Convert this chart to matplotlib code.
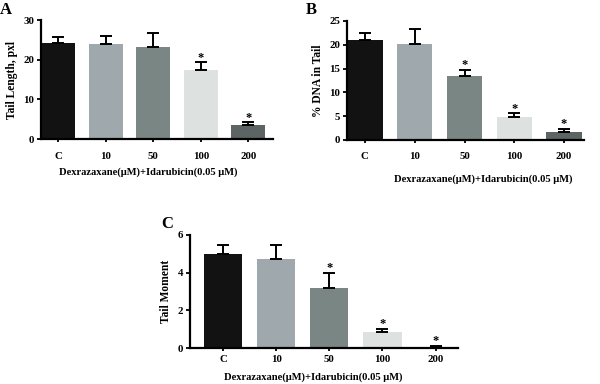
import numpy as np
import matplotlib.pyplot as plt

groups = ['C', '10', '50', '100', '200']
bar_colors = ['#121212', '#9ea8ad', '#7a8683', '#dde2e0', '#5c6563']

tail_length = [24.3, 24.0, 23.2, 17.3, 3.6]
tail_length_err = [1.5, 2.0, 3.4, 2.0, 0.7]

dna_in_tail = [21.0, 20.1, 13.5, 4.9, 1.7]
dna_in_tail_err = [1.4, 3.2, 1.2, 0.7, 0.6]

tail_moment = [5.0, 4.72, 3.2, 0.85, 0.07]
tail_moment_err = [0.45, 0.73, 0.8, 0.18, 0.06]

signif_a = [False, False, False, True, True]
signif_b = [False, False, True, True, True]
signif_c = [False, False, True, True, True]

xlabel = 'Dexrazaxane(\u03bcM)+Idarubicin(0.05 \u03bcM)'

plt.rcParams['font.family'] = ['Liberation Serif', 'DejaVu Serif']
plt.rcParams['font.weight'] = 'bold'

W, H = 600, 384
fig = plt.figure(figsize=(W / 100, H / 100), dpi=100)


def px_axes(left, right, top, bottom):
    return fig.add_axes([left / W, 1 - bottom / H, (right - left) / W, (bottom - top) / H])


def panel(ax, vals, errs, stars, ymax, yticks, ylabel, xlim, width, star_off, xpad):
    x = np.arange(len(groups))
    ax.bar(x, vals, width=width, color=bar_colors, zorder=2)
    ax.errorbar(x, vals, yerr=[np.zeros(len(vals)), errs], fmt='none',
                ecolor='black', elinewidth=1.4, capsize=4, capthick=1.4, zorder=3)
    for xi, v, e, s in zip(x, vals, errs, stars):
        if s:
            ax.text(xi, v + e + star_off, '*', ha='center', va='center', fontsize=9)
    ax.set_xlim(*xlim)
    ax.set_ylim(0, ymax)
    ax.set_yticks(yticks)
    ax.set_xticks(x)
    ax.set_xticklabels(groups)
    for side in ['top', 'right']:
        ax.spines[side].set_visible(False)
    for side in ['left', 'bottom']:
        ax.spines[side].set_linewidth(1.6)
    ax.tick_params(axis='y', labelsize=7.8, width=1.3, length=3, pad=2)
    ax.tick_params(axis='x', labelsize=7.8, width=1.3, length=2, pad=xpad)
    ax.set_ylabel(ylabel, fontsize=8.3, fontweight='bold', labelpad=4)


axA = px_axes(41, 273, 20, 139)
panel(axA, tail_length, tail_length_err, signif_a, 30, [0, 10, 20, 30],
      'Tail Length, pxl', (-0.36, 4.52), 0.71, 1.1, 7)

axB = px_axes(347, 584, 21, 140)
panel(axB, dna_in_tail, dna_in_tail_err, signif_b, 25, [0, 5, 10, 15, 20, 25],
      '% DNA in Tail', (-0.36, 4.4), 0.71, 1.0, 7)

axC = px_axes(190, 458, 235, 348)
panel(axC, tail_moment, tail_moment_err, signif_c, 6, [0, 2, 4, 6],
      'Tail Moment', (-0.62, 4.42), 0.72, 0.25, 3)

# x-axis titles and panel letters, placed in figure pixels
for cx, cy in [(148, 172), (483, 179), (313, 377)]:
    fig.text(cx / W, 1 - cy / H, xlabel, fontsize=7.6, fontweight='bold',
             ha='center', va='center')
for letter, cx, cy in [('A', 6, 10), ('B', 311, 10), ('C', 167, 224)]:
    fig.text(cx / W, 1 - cy / H, letter, fontsize=12, fontweight='bold',
             ha='center', va='center')

fig.savefig('out.png', dpi=100)
